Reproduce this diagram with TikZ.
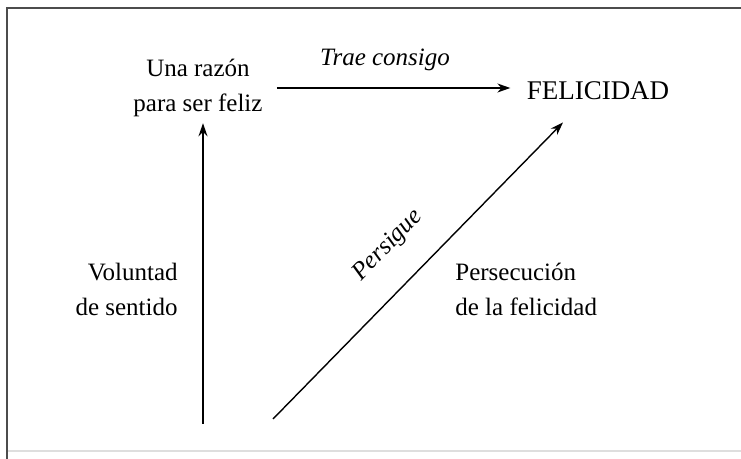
\documentclass[tikz,border=0pt]{standalone}
\usepackage{fontspec}
\setmainfont{Liberation Serif}
\usepackage{tikz}
\usetikzlibrary{arrows.meta, positioning, calc}

\begin{document}
\begin{tikzpicture}[x=0.5pt,y=-0.5pt,
  lbl/.style={font=\fontsize{12.5}{17.5}\selectfont, inner sep=3pt},
  arr/.style={line width=0.7pt, -{Stealth[length=6.5pt,width=4.5pt]}}]

% ------------------------
% Frame
% ------------------------
\useasboundingbox (0,0) rectangle (741,459);
\draw[black!70, line width=1pt] (7,459) -- (7,8) -- (741,8);
\draw[black!13, line width=1pt] (8,451) -- (741,451);

% ------------------------
% Labels
% ------------------------
\node[lbl, align=center] (razon) at (198,88) {Una razón\\para ser feliz};
\node[lbl, font=\fontsize{13.5}{17.5}\selectfont] (felicidad) at (598,91) {FELICIDAD};
\node[lbl] (trae) at (385,60) {\itshape Trae consigo};
\node[lbl, align=right, anchor=east] (voluntad) at (184,289) {Voluntad\\de sentido};
\node[lbl, align=left, anchor=west] (persecucion) at (449,289) {Persecución\\de la felicidad};
\node[lbl, rotate=46] (persigue) at (388,246) {\itshape Persigue};

% ------------------------
% Arrows
% ------------------------
\coordinate (vbot) at (203,424);
\coordinate (dbot) at (273,419);
\coordinate (dtop) at ([xshift=-17.5pt,yshift=-8pt]felicidad.south);

% Voluntad de sentido
\draw[arr] (vbot) -- (vbot |- razon.south);

% Trae consigo
\draw[arr] ([xshift=4pt]razon.east) -- ([xshift=-5pt]razon.east -| felicidad.west);

% Persigue
\draw[arr] (dbot) -- (dtop);

\end{tikzpicture}
\end{document}
